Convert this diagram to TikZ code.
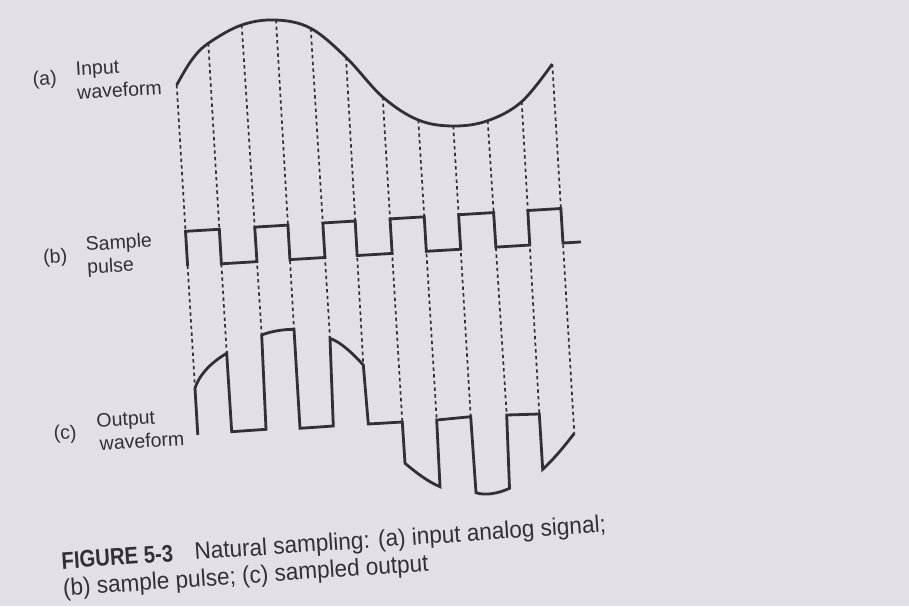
\documentclass[tikz,border=0pt]{standalone}
\usepackage{graphicx}
\usepackage{fontspec}
\setmainfont{Liberation Sans}
\newfontfamily\capfont[FakeStretch=0.94]{Liberation Sans}
\definecolor{paper}{RGB}{226,223,230}
\definecolor{ink}{RGB}{50,48,54}
\begin{document}
\begin{tikzpicture}[x=1pt,y=-1pt,
  wave/.style={ink, line width=2.8pt},
  guide/.style={ink, line width=1.7pt, dash pattern=on 3.4pt off 3.3pt},
  lbl/.style={text=ink, font=\fontsize{19.5}{23.5}\selectfont, rotate=3.5, anchor=base west, inner sep=0pt},
  captext/.style={text=ink, font=\capfont\fontsize{24}{26}\selectfont, rotate=3.9, anchor=base west, inner sep=0pt},
]
\fill[paper] (0,0) rectangle (909,606);
\useasboundingbox (0,0) rectangle (909,606);

% points where the guides meet the input waveform
\coordinate (S1) at (176.7,85);
\coordinate (S2) at (208.3,43.3);
\coordinate (S3) at (241.7,25);
\coordinate (S4) at (276,20);
\coordinate (S5) at (310.7,28.3);
\coordinate (S6) at (346,57.3);
\coordinate (S7) at (382.7,97);
\coordinate (S8) at (418.3,120);
\coordinate (S9) at (453.3,126);
\coordinate (S10) at (487.7,120.7);
\coordinate (S11) at (521.7,101.7);
\coordinate (S12) at (552.3,64);
% points where the guides meet the output waveform
\coordinate (O1) at (195,388.3);
\coordinate (O2) at (226.7,353.3);
\coordinate (O3) at (261.7,335);
\coordinate (O4) at (294,329.3);
\coordinate (O5) at (330,338.3);
\coordinate (O6) at (363.3,365);
\coordinate (O7) at (402.3,422);
\coordinate (O8) at (436.7,420);
\coordinate (O9) at (470.7,416.7);
\coordinate (O10) at (506.7,415);
\coordinate (O11) at (539.3,414);
\coordinate (O12) at (574.3,433.3);
% pulse levels
\coordinate (HA) at (186,231.3);
\coordinate (HB) at (561,208.5);
\coordinate (LA) at (190,265.7);
\coordinate (LB) at (560,243.2);
\coordinate (tail) at (581,241.9);

\foreach \i in {1,...,12} {
  \draw[guide] (S\i) -- (O\i);
  \coordinate (H\i) at (intersection cs: first line={(S\i)--(O\i)}, second line={(HA)--(HB)});
  \coordinate (L\i) at (intersection cs: first line={(S\i)--(O\i)}, second line={(LA)--(LB)});
}

% (a) input waveform
\draw[wave] plot[smooth, tension=0.6] coordinates {(S1) (191.7,60) (S2) (S3) (S4) (S5) (S6) (S7) (S8) (S9) (S10) (S11) (S12)};

% (b) sample pulse
\draw[wave] (L1) -- (H1) -- (H2) -- (L2) -- (L3) -- (H3) -- (H4) -- (L4) -- (L5) -- (H5) -- (H6) -- (L6)
  -- (L7) -- (H7) -- (H8) -- (L8) -- (L9) -- (H9) -- (H10) -- (L10) -- (L11) -- (H11) -- (H12) -- (L12) -- (tail);

% (c) output waveform
\draw[wave] (197.8,435) -- (O1) .. controls (200,372.3) and (214.7,360.3) .. (O2)
  -- (231.7,431.7) -- (266,429.3) -- (O3) .. controls (271.7,331) and (284,329.3) .. (O4)
  -- (300,428.3) -- (333.3,426) -- (O5) .. controls (341,342.3) and (352.3,353) .. (O6)
  -- (368.3,424) -- (O7) -- (405,463.3) .. controls (417,473.3) and (428,481.7) .. (440,486.7)
  -- (O8) -- (O9) -- (476,492.7) .. controls (486,496) and (499.5,493) .. (509.5,488.3)
  -- (O10) -- (O11) -- (542.7,469.3) .. controls (553.7,459.3) and (564.3,446.3) .. (O12);

% labels
\node[lbl] (la) at (33,86) {(a)};
\node[lbl] (la1) at (76,76) {Input};
\node[lbl] (la2) at (77.5,99.5) {waveform};
\node[lbl] (lb) at (43.5,264) {(b)};
\node[lbl] (lb1) at (86,251) {Sample};
\node[lbl] (lb2) at (87.5,274) {pulse};
\node[lbl] (lc) at (54,440) {(c)};
\node[lbl] (lc1) at (96.7,427.3) {Output};
\node[lbl] (lc2) at (100,450.5) {waveform};

% caption
\node[captext] (cap1) at (62,569) {\scalebox{0.9}[1]{\bfseries FIGURE 5-3}\hspace{0.9em}Natural sampling: (a) input analog signal;};
\node[captext] (cap2) at (63.5,596) {(b) sample pulse; (c) sampled output};
\end{tikzpicture}
\end{document}
